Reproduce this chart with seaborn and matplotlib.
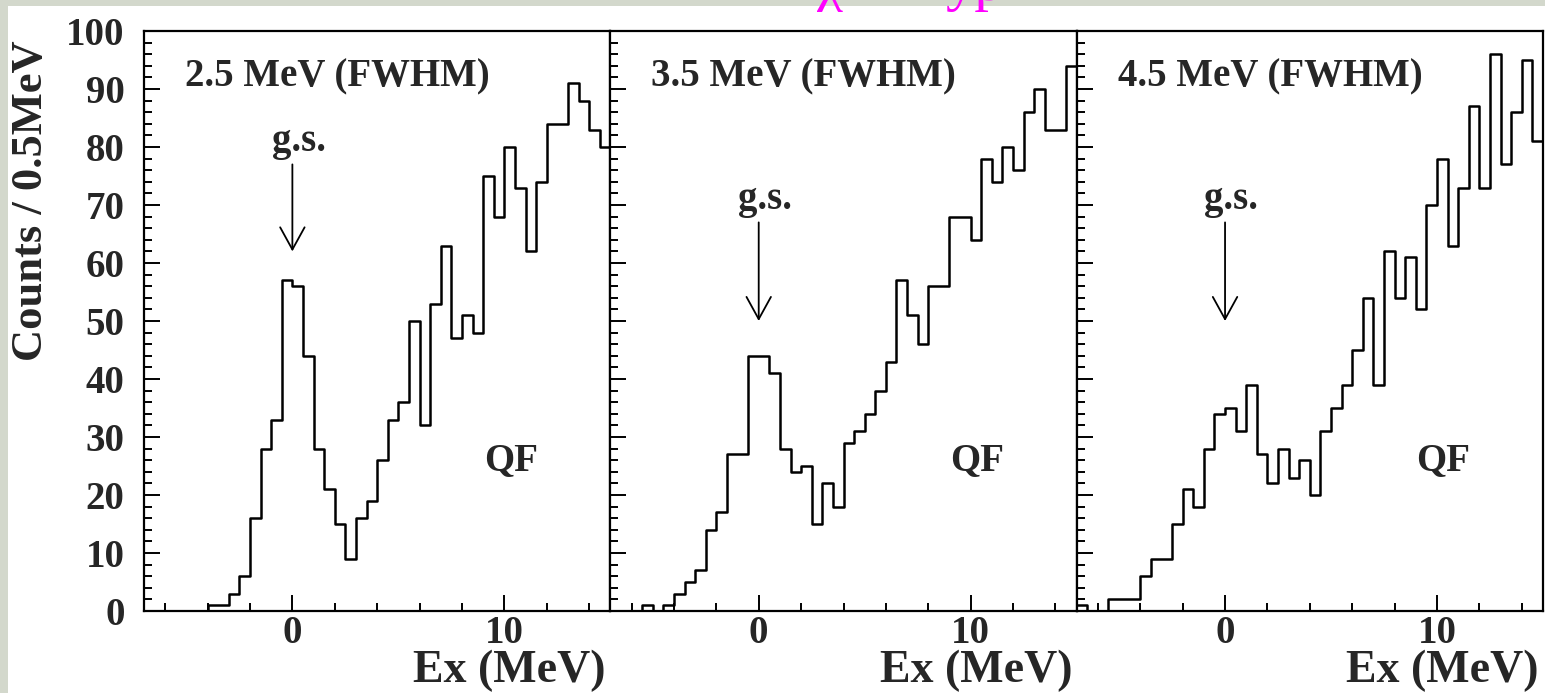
import numpy as np
import pandas as pd
import matplotlib
matplotlib.use('Agg')
import matplotlib.pyplot as plt
from matplotlib.patches import Rectangle
from matplotlib.ticker import MultipleLocator
import seaborn as sns

# Ex spectra, 0.5 MeV bins from -7 to 15 MeV, three resolutions
resolutions = ['2.5 MeV (FWHM)', '3.5 MeV (FWHM)', '4.5 MeV (FWHM)']
bin_lo, bin_hi, bin_w = -7.0, 15.0, 0.5

counts_25 = [0, 0, 0, 0, 0, 0, 1, 1, 3, 6, 16, 28, 33, 57, 56, 44, 28, 21, 15, 9,
             16, 19, 26, 33, 36, 50, 32, 53, 63, 47, 51, 48, 75, 68, 80, 73, 62, 74,
             84, 84, 91, 88, 83, 80]
counts_35 = [0, 0, 0, 1, 0, 1, 3, 5, 7, 14, 17, 27, 27, 44, 44, 41, 28, 24, 25, 15,
             22, 18, 29, 31, 34, 38, 43, 57, 51, 46, 56, 56, 68, 68, 64, 78, 74, 80,
             76, 86, 90, 83, 83, 94]
counts_45 = [1, 0, 0, 2, 2, 2, 6, 9, 9, 15, 21, 18, 28, 34, 35, 31, 39, 27, 22, 28,
             23, 26, 20, 31, 35, 39, 45, 54, 39, 62, 54, 61, 52, 70, 78, 63, 73, 87,
             73, 96, 77, 86, 95, 81]
all_counts = [counts_25, counts_35, counts_45]

# g.s. arrow (top, tip) and label height, in counts
gs_label_y = [81, 71, 71]
gs_arrow_top = [77, 67, 67]
gs_arrow_tip = [62, 50, 50]

edges = np.arange(bin_lo, bin_hi + bin_w / 2, bin_w)
centers = edges[:-1] + bin_w / 2

sns.set_style('ticks')
plt.rcParams['font.family'] = ['Liberation Serif', 'DejaVu Serif']
plt.rcParams['font.weight'] = 'bold'
plt.rcParams['axes.labelweight'] = 'bold'

W, H = 1545, 693
fig, axes = plt.subplots(1, 3, figsize=(W / 100, H / 100), dpi=100, sharey=True)
fig.patch.set_facecolor('#d3d8cc')
fig.add_artist(Rectangle((8 / W, 0), 1, (H - 6) / H, transform=fig.transFigure,
                         facecolor='white', edgecolor='none', zorder=-10))
fig.subplots_adjust(left=144 / W, right=1543 / W, bottom=1 - 611 / H, top=1 - 31 / H,
                    wspace=0)

for i, ax in enumerate(axes):
    df = pd.DataFrame({'ex': centers, 'n': np.array(all_counts[i], dtype=float)})
    sns.histplot(data=df, x='ex', weights='n', bins=edges.tolist(), element='step',
                 fill=False, color='black', linewidth=1.8, ax=ax)
    ax.set_xlim(bin_lo, bin_hi)
    ax.set_ylim(0, 100)
    ax.set_facecolor('white')
    for s in ax.spines.values():
        s.set_visible(True)
        s.set_linewidth(1.6)
        s.set_color('black')
    ax.xaxis.set_major_locator(MultipleLocator(10))
    ax.xaxis.set_minor_locator(MultipleLocator(2))
    ax.yaxis.set_major_locator(MultipleLocator(10))
    ax.yaxis.set_minor_locator(MultipleLocator(2))
    ax.tick_params(which='both', direction='in', top=False, right=False, width=1.4,
                   color='black')
    ax.tick_params(which='major', length=11.5)
    ax.tick_params(which='minor', length=6)
    ax.tick_params(axis='x', labelsize=28, pad=3)
    ax.tick_params(axis='y', labelsize=28, pad=14)
    for lab in ax.get_xticklabels() + ax.get_yticklabels():
        lab.set_fontweight('bold')

    ax.set_xlabel('Ex (MeV)', fontsize=33, fontweight='bold', loc='right')
    ax.xaxis.set_label_coords(0.99, -0.066)
    if i == 0:
        ax.set_ylabel('Counts / 0.5MeV', fontsize=32, fontweight='bold')
        ax.yaxis.set_label_coords(-0.2, 0.707)
    else:
        ax.set_ylabel('')
        ax.tick_params(axis='y', labelleft=False)

    ax.text(0.088, 92, resolutions[i], transform=ax.get_yaxis_transform(),
            fontsize=28, fontweight='bold', ha='left', va='center')
    ax.text(0.3, gs_label_y[i], 'g.s.', fontsize=28, fontweight='bold',
            ha='center', va='center')
    ax.annotate('', xy=(0, gs_arrow_tip[i]), xytext=(0, gs_arrow_top[i]),
                arrowprops=dict(arrowstyle='->,head_length=1.0,head_width=0.55',
                                mutation_scale=16, color='black', lw=1.3,
                                shrinkA=0, shrinkB=0))
    ax.text(10.3, 26, 'QF', fontsize=28, fontweight='bold', ha='center', va='center')

# bottom of the slide title, cut off by the top edge as in the slide
fig.text(830 / W, 1.0, 'χ', color='magenta', fontsize=42, ha='center',
         va='baseline', fontweight='normal')
fig.text(945 / W, 1.0, 'yp', color='magenta', fontsize=42, ha='left',
         va='baseline', fontweight='normal')

fig.savefig('out.png', dpi=100)
